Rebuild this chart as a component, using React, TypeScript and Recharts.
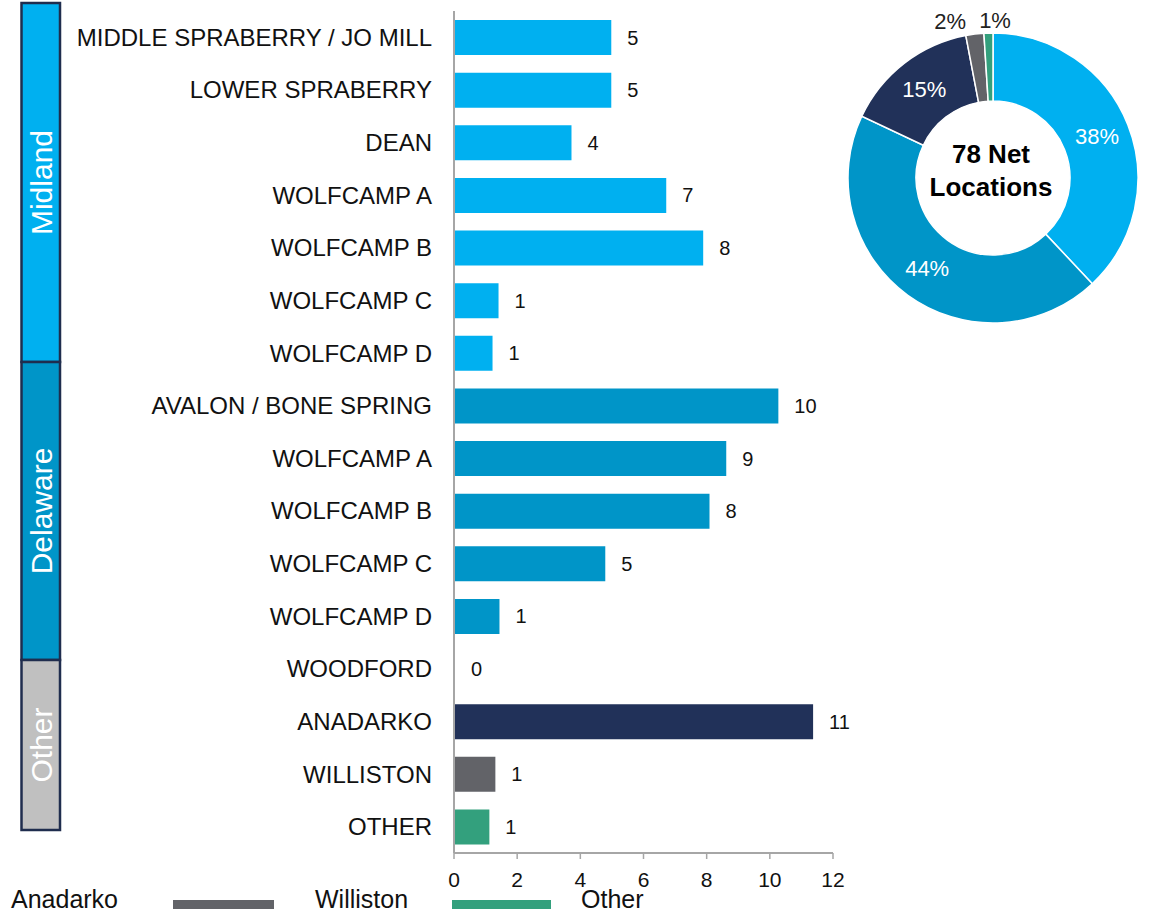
import React from "react";
import { BarChart, Bar, XAxis, YAxis, Cell, LabelList, PieChart, Pie } from "recharts";

const categories = [
  "MIDDLE SPRABERRY / JO MILL",
  "LOWER SPRABERRY",
  "DEAN",
  "WOLFCAMP A",
  "WOLFCAMP B",
  "WOLFCAMP C",
  "WOLFCAMP D",
  "AVALON / BONE SPRING",
  "WOLFCAMP A",
  "WOLFCAMP B",
  "WOLFCAMP C",
  "WOLFCAMP D",
  "WOODFORD",
  "ANADARKO",
  "WILLISTON",
  "OTHER",
];
const locations = [4.98, 4.98, 3.72, 6.72, 7.89, 1.41, 1.22, 10.27, 8.62, 8.09, 4.79, 1.44, 0, 11.37, 1.31, 1.12];
const basins = [
  "Midland", "Midland", "Midland", "Midland", "Midland", "Midland", "Midland",
  "Delaware", "Delaware", "Delaware", "Delaware", "Delaware",
  "Other", "Anadarko", "Williston", "Other",
];
const xTicks = [0, 2, 4, 6, 8, 10, 12];

const pieNames = ["Midland", "Delaware", "Anadarko", "Williston", "Other"];
const piePercents = [38, 44, 15, 2, 1];

const groupNames = ["Midland", "Delaware", "Other"];
const legendNames = ["Anadarko", "Williston", "Other"];

const COLORS: Record<string, string> = {
  Midland: "#00B0F0",
  Delaware: "#0095C8",
  Anadarko: "#213159",
  Williston: "#626368",
  Other: "#33A07D",
};
const GROUP_COLORS: Record<string, string> = {
  Midland: "#00B0F0",
  Delaware: "#0095C8",
  Other: "#C0C0C0",
};

const barData = categories.map((c, i) => ({ key: `${c}-${i}`, name: c, value: locations[i], basin: basins[i] }));
const pieData = pieNames.map((n, i) => ({ name: n, value: piePercents[i] }));

const FONT = "'Liberation Sans', Arial, sans-serif";

// layout constants (pixels)
const GROUP_EDGES = [3, 362, 660, 830];

const RAD = Math.PI / 180;
const renderPieLabel = (props: any) => {
  const { cx, cy, midAngle, index } = props;
  const outside = piePercents[index] < 5;
  let x: number;
  let y: number;
  if (outside) {
    const r = 158;
    x = cx + r * Math.cos(-midAngle * RAD) + (index === 3 ? -23 : 7);
    y = cy + r * Math.sin(-midAngle * RAD);
  } else {
    const r = 112;
    x = cx + r * Math.cos(-midAngle * RAD);
    y = cy + r * Math.sin(-midAngle * RAD);
  }
  return (
    <text
      x={x}
      y={y}
      fill={outside ? "#222" : "#fff"}
      textAnchor="middle"
      dominantBaseline="central"
      fontSize={22}
      fontFamily={FONT}
    >
      {`${piePercents[index]}%`}
    </text>
  );
};

const PLOT_TOP = 11;

export default function App() {
  return (
    <div style={{ position: "absolute", left: 0, top: 0, width: 1152, height: 912, background: "#fff", fontFamily: FONT }}>
      {/* group bracket boxes */}
      <svg width={80} height={912} style={{ position: "absolute", left: 0, top: 0 }}>
        {groupNames.map((g, i) => {
          const y0 = GROUP_EDGES[i];
          const y1 = GROUP_EDGES[i + 1];
          const cy = (y0 + y1) / 2;
          return (
            <g key={g}>
              <rect x={21.5} y={y0} width={38.5} height={y1 - y0} fill={GROUP_COLORS[g]} stroke="#1F2D4E" strokeWidth={2.5} />
              <text
                x={41}
                y={cy}
                transform={`rotate(-90 41 ${cy})`}
                textAnchor="middle"
                dominantBaseline="central"
                fill="#fff"
                fontSize={30}
                fontFamily={FONT}
              >
                {g}
              </text>
            </g>
          );
        })}
      </svg>

      <div style={{ position: "absolute", left: 0, top: 0 }}>
        <BarChart
          width={860}
          height={912}
          data={barData}
          layout="vertical"
          margin={{ top: PLOT_TOP, right: 27, bottom: 19, left: 0 }}
          barSize={35}
        >
          <XAxis
            type="number"
            domain={[0, 12]}
            ticks={xTicks}
            height={40}
            axisLine={{ stroke: "#A6A6A6", strokeWidth: 2 }}
            tickLine={{ stroke: "#A6A6A6", strokeWidth: 1.5 }}
            tickSize={6}
            tickMargin={13}
            tick={{ fontSize: 21, fill: "#111", fontFamily: FONT }}
          />
          <YAxis
            type="category"
            dataKey="key"
            width={454}
            axisLine={{ stroke: "#A6A6A6", strokeWidth: 2 }}
            tickLine={false}
            tickSize={0}
            tickMargin={22}
            interval={0}
            tickFormatter={(v: string) => v.replace(/-\d+$/, "")}
            tick={{ fontSize: 24, fill: "#111", fontFamily: FONT }}
          />
          <Bar dataKey="value" isAnimationActive={false} minPointSize={1}>
            {barData.map((d) => (
              <Cell key={d.key} fill={COLORS[d.basin]} />
            ))}
            <LabelList
              dataKey="value"
              position="right"
              offset={16}
              formatter={(v: any) => Math.round(Number(v))}
              style={{ fontSize: 20, fill: "#111", fontFamily: FONT }}
            />
          </Bar>
        </BarChart>
      </div>

      <div style={{ position: "absolute", left: 843, top: 0 }}>
        <PieChart width={300} height={330} margin={{ top: 0, right: 0, bottom: 0, left: 0 }}>
          <Pie
            data={pieData}
            dataKey="value"
            cx={150}
            cy={178}
            innerRadius={77}
            outerRadius={145}
            startAngle={90}
            endAngle={-270}
            stroke="#fff"
            strokeWidth={1.5}
            label={renderPieLabel}
            labelLine={false}
            isAnimationActive={false}
          >
            {pieData.map((d) => (
              <Cell key={d.name} fill={COLORS[d.name]} />
            ))}
          </Pie>
          <text x={148} y={154} textAnchor="middle" dominantBaseline="central" fontSize={26} fontWeight="bold" fill="#000" fontFamily={FONT}>
            78 Net
          </text>
          <text x={148} y={187} textAnchor="middle" dominantBaseline="central" fontSize={26} fontWeight="bold" fill="#000" fontFamily={FONT}>
            Locations
          </text>
        </PieChart>
      </div>

      {/* partial legend strip at bottom */}
      <svg width={700} height={40} style={{ position: "absolute", left: 0, top: 872 }}>
        <text x={11} y={36} fontSize={25} fill="#111" fontFamily={FONT}>{legendNames[0]}</text>
        <rect x={173} y={28} width={101} height={9} fill={COLORS.Williston} />
        <text x={315} y={36} fontSize={25} fill="#111" fontFamily={FONT}>{legendNames[1]}</text>
        <rect x={452} y={28} width={99} height={9} fill={COLORS.Other} />
        <text x={581} y={36} fontSize={25} fill="#111" fontFamily={FONT}>{legendNames[2]}</text>
      </svg>
    </div>
  );
}
